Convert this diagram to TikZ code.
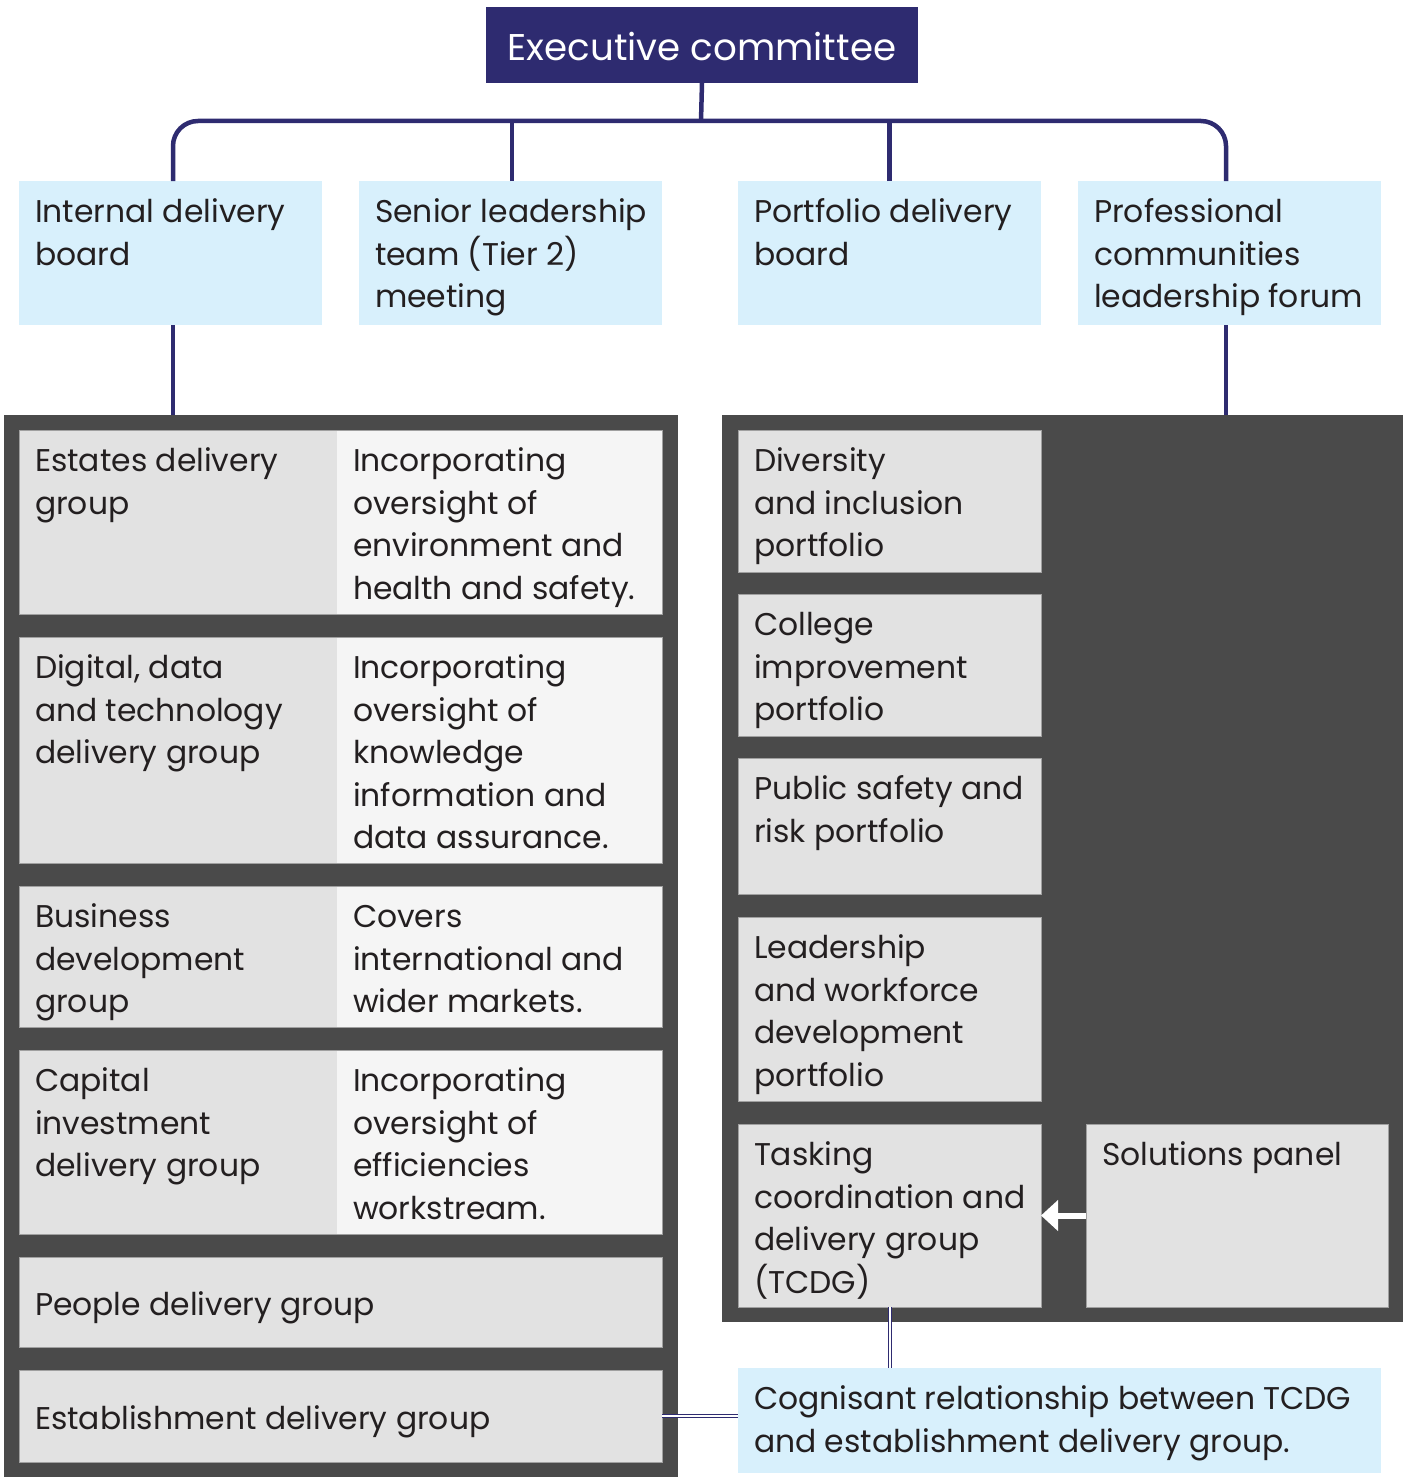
\documentclass[tikz,border=0pt]{standalone}
\usepackage{fontspec}
\setmainfont{Poppins}
\usetikzlibrary{arrows.meta}

\definecolor{navy}{RGB}{46,43,112}
\definecolor{paleblue}{RGB}{216,240,252}
\definecolor{panelgray}{RGB}{74,74,74}
\definecolor{cellgray}{RGB}{226,226,226}
\definecolor{celllight}{RGB}{245,245,245}
\definecolor{cellline}{RGB}{160,160,160}
\definecolor{inkgray}{RGB}{35,31,32}

\begin{document}
\begin{tikzpicture}[x=0.5pt, y=-0.5pt,
    every node/.style={inner sep=0pt, outer sep=0pt, anchor=north west},
    topbox/.style={fill=paleblue, minimum width=151.5pt, minimum height=72pt},
    panel/.style={fill=panelgray},
    darkcell/.style={fill=cellgray},
    lightcell/.style={fill=celllight},
    greybox/.style={fill=cellgray, draw=cellline, line width=0.5pt, minimum width=151.5pt},
    boxtext/.style={text=inkgray, align=left, font=\fontsize{15.7}{21.25}\selectfont},
    link/.style={draw=navy, line width=2.25pt},
    twin/.style={draw=navy, double=white, double distance=1pt, line width=0.5pt},
    pointer/.style={draw=white, line width=3pt, -{Triangle[length=8.5pt,width=15pt]}}]

            \useasboundingbox (0,0) rectangle (1405,1477);

            % Nodes
            \node[fill=navy, minimum width=216pt, minimum height=37.8pt] (exc) at (486,7) {};
            \node[topbox] (idb) at (19,181) {};
            \node[topbox] (slt) at (359,181) {};
            \node[topbox] (pdb) at (738,181) {};
            \node[topbox] (pcl) at (1078,181) {};

            \node[panel, minimum width=337pt, minimum height=531pt] (lpanel) at (4,415) {};
            \node[panel, minimum width=340.5pt, minimum height=453.5pt] (rpanel) at (722,415) {};

            \node[darkcell, minimum width=159pt, minimum height=92pt] (estL) at (19,430) {};
            \node[lightcell, minimum width=162.5pt, minimum height=92pt] (estR) at (337,430) {};
            \node[darkcell, minimum width=159pt, minimum height=113pt] (ddtL) at (19,637) {};
            \node[lightcell, minimum width=162.5pt, minimum height=113pt] (ddtR) at (337,637) {};
            \node[darkcell, minimum width=159pt, minimum height=70.5pt] (bdgL) at (19,886) {};
            \node[lightcell, minimum width=162.5pt, minimum height=70.5pt] (bdgR) at (337,886) {};
            \node[darkcell, minimum width=159pt, minimum height=92pt] (cidL) at (19,1050) {};
            \node[lightcell, minimum width=162.5pt, minimum height=92pt] (cidR) at (337,1050) {};
            \node[greybox, minimum width=321.5pt, minimum height=45pt] (pdg) at (19,1257) {};
            \node[greybox, minimum width=321.5pt, minimum height=46pt] (edg) at (19,1370) {};

            \draw[cellline, line width=0.5pt] (estL.north west) rectangle (estR.south east);
            \draw[cellline, line width=0.5pt] (ddtL.north west) rectangle (ddtR.south east);
            \draw[cellline, line width=0.5pt] (bdgL.north west) rectangle (bdgR.south east);
            \draw[cellline, line width=0.5pt] (cidL.north west) rectangle (cidR.south east);

            \node[greybox, minimum height=71pt] (div) at (738,430) {};
            \node[greybox, minimum height=71pt] (col) at (738,594) {};
            \node[greybox, minimum height=68pt] (pub) at (738,758) {};
            \node[greybox, minimum height=92pt] (lwd) at (738,917) {};
            \node[greybox, minimum height=91.5pt] (tcdg) at (738,1124) {};
            \node[greybox, minimum width=151pt, minimum height=91.5pt] (sol) at (1086,1124) {};

            \node[topbox, minimum width=321.5pt, minimum height=52.5pt] (cog) at (738,1368) {};
            \coordinate (bar) at (701,121);

            % Lines
            \draw[link] (exc.south) -- (bar);
            \draw[link, rounded corners=12.5pt] ([xshift=1.25pt]idb.north) |- (bar) -| ([xshift=-1.75pt]pcl.north);
            \draw[link] ([xshift=0.75pt]slt.north) -- ([xshift=0.75pt]slt.north |- bar);
            \draw[link] (pdb.north) -- (pdb.north |- bar);
            \draw[link] ([xshift=1.25pt]idb.south) -- ([xshift=1.25pt]idb.south |- lpanel.north);
            \draw[link] ([xshift=-1.75pt]pcl.south) -- ([xshift=-1.75pt]pcl.south |- rpanel.north);

            \draw[pointer] (sol.west) -- (tcdg.east);
            \draw[twin] (tcdg.south) -- (tcdg.south |- cog.north);
            \draw[twin] (edg.east) -- (edg.east -| cog.west);

            % Labels
            \node[anchor=center, text=white, font=\fontsize{18.6}{23}\selectfont] (exct) at ([yshift=-1pt]exc.center) {Executive committee};

            \node[boxtext] (idbt) at ([xshift=8pt, yshift=-6pt]idb.north west) {\strut Internal delivery\\board};
            \node[boxtext] (sltt) at ([xshift=8pt, yshift=-6pt]slt.north west) {\strut Senior leadership\\team (Tier 2)\\meeting};
            \node[boxtext] (pdbt) at ([xshift=8pt, yshift=-6pt]pdb.north west) {\strut Portfolio delivery\\board};
            \node[boxtext] (pclt) at ([xshift=8pt, yshift=-6pt]pcl.north west) {\strut Professional\\communities\\leadership forum};

            \node[boxtext] (estLt) at ([xshift=8pt, yshift=-6pt]estL.north west) {\strut Estates delivery\\group};
            \node[boxtext] (estRt) at ([xshift=8pt, yshift=-6pt]estR.north west) {\strut Incorporating\\oversight of\\environment and\\health and safety.};
            \node[boxtext] (ddtLt) at ([xshift=8pt, yshift=-6pt]ddtL.north west) {\strut Digital, data\\and technology\\delivery group};
            \node[boxtext] (ddtRt) at ([xshift=8pt, yshift=-6pt]ddtR.north west) {\strut Incorporating\\oversight of\\knowledge\\information and\\data assurance.};
            \node[boxtext] (bdgLt) at ([xshift=8pt, yshift=-6pt]bdgL.north west) {\strut Business\\development\\group};
            \node[boxtext] (bdgRt) at ([xshift=8pt, yshift=-6pt]bdgR.north west) {\strut Covers\\international and\\wider markets.};
            \node[boxtext] (cidLt) at ([xshift=8pt, yshift=-6pt]cidL.north west) {\strut Capital\\investment\\delivery group};
            \node[boxtext] (cidRt) at ([xshift=8pt, yshift=-6pt]cidR.north west) {\strut Incorporating\\oversight of\\efficiencies\\workstream.};
            \node[boxtext, anchor=base west] (pdgt) at ([xshift=8pt, yshift=-6.5pt]pdg.west) {People delivery group};
            \node[boxtext, anchor=base west] (edgt) at ([xshift=8pt, yshift=-6.5pt]edg.west) {Establishment delivery group};

            \node[boxtext] (divt) at ([xshift=8pt, yshift=-6pt]div.north west) {\strut Diversity\\and inclusion\\portfolio};
            \node[boxtext] (colt) at ([xshift=8pt, yshift=-6pt]col.north west) {\strut College\\improvement\\portfolio};
            \node[boxtext] (pubt) at ([xshift=8pt, yshift=-6pt]pub.north west) {\strut Public safety and\\risk portfolio};
            \node[boxtext] (lwdt) at ([xshift=8pt, yshift=-6pt]lwd.north west) {\strut Leadership\\and workforce\\development\\portfolio};
            \node[boxtext] (tcdgt) at ([xshift=8pt, yshift=-6pt]tcdg.north west) {\strut Tasking\\coordination and\\delivery group\\(TCDG)};
            \node[boxtext] (solt) at ([xshift=8pt, yshift=-6pt]sol.north west) {\strut Solutions panel};
            \node[boxtext] (cogt) at ([xshift=8pt, yshift=-6pt]cog.north west) {\strut Cognisant relationship between TCDG\\and establishment delivery group.};

        \end{tikzpicture}
\end{document}
